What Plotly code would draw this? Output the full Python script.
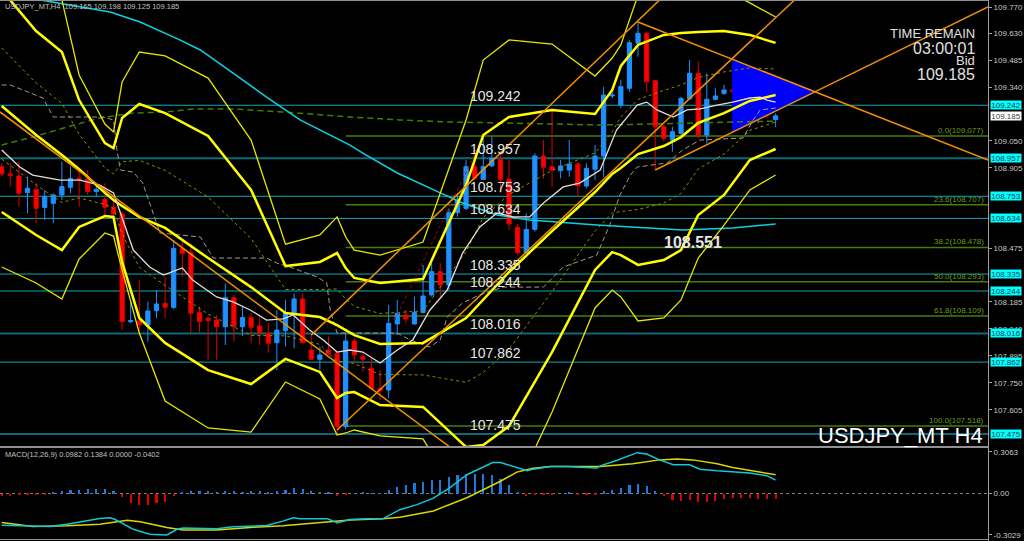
import plotly.graph_objects as go

# ---------------- candles (bar index 0..90) ----------------
opens = [108.912,108.873,108.862,108.772,108.790,108.693,108.715,108.760,108.801,108.850,
         108.844,108.778,108.737,108.694,108.658,108.079,108.083,108.061,108.138,108.178,
         108.156,108.473,108.450,108.129,108.097,108.088,108.052,108.208,108.052,108.101,
         108.056,108.017,107.966,108.031,108.120,108.201,107.927,107.877,107.927,107.909,
         107.515,107.975,107.891,107.829,107.721,107.712,108.067,108.115,108.067,108.128,
         108.223,108.348,108.276,108.665,108.688,108.912,108.844,108.916,108.952,108.844,
         108.586,108.450,108.575,108.969,108.912,108.891,108.894,108.926,108.808,108.898,
         108.969,109.292,109.243,109.333,109.575,109.629,109.374,109.127,109.055,109.091,
         109.277,109.414,109.082,109.274,109.306,109.324,109.324,109.356,109.315,109.292,
         109.165]
highs = [108.930,108.930,108.939,108.858,108.822,108.787,108.769,108.939,108.912,108.903,
         108.894,108.822,108.822,108.751,108.670,108.187,108.303,108.187,108.249,108.321,
         108.518,108.518,108.500,108.160,108.106,108.115,108.285,108.223,108.160,108.124,
         108.106,108.070,108.142,108.196,108.231,108.231,108.008,107.945,107.999,107.918,
         108.017,107.990,107.909,107.882,107.820,108.169,108.196,108.142,108.214,108.384,
         108.393,108.393,108.688,108.769,108.948,108.984,109.073,109.073,108.984,108.948,
         108.604,108.661,108.984,109.055,109.226,108.948,109.055,108.939,108.930,109.028,
         109.342,109.333,109.378,109.593,109.691,109.637,109.378,109.136,109.127,109.288,
         109.485,109.476,109.414,109.333,109.351,109.342,109.449,109.405,109.333,109.315,
         109.198]
lows = [108.858,108.805,108.697,108.661,108.608,108.626,108.608,108.733,108.769,108.697,
        108.760,108.751,108.626,108.643,108.034,108.070,108.008,107.972,108.097,108.097,
        108.146,108.321,108.020,108.020,107.873,107.873,107.954,107.972,108.003,107.963,
        107.954,107.913,107.820,107.945,107.936,107.963,107.873,107.820,107.900,107.475,
        107.500,107.864,107.811,107.712,107.658,107.667,108.008,108.070,108.061,108.124,
        108.214,108.205,108.250,108.643,108.679,108.840,108.840,108.912,108.769,108.572,
        108.437,108.446,108.563,108.849,108.805,108.849,108.858,108.751,108.796,108.840,
        108.858,109.279,109.226,109.315,109.503,109.315,108.894,109.046,108.993,109.064,
        109.270,109.064,109.037,109.270,109.297,109.297,109.288,109.234,109.145,109.172,
        109.125]
closes = [108.873,108.866,108.769,108.796,108.688,108.751,108.760,108.805,108.849,108.845,
          108.778,108.790,108.694,108.658,108.079,108.085,108.061,108.137,108.174,108.156,
          108.473,108.446,108.124,108.079,108.085,108.052,108.208,108.052,108.101,108.049,
          108.020,107.963,108.034,108.124,108.201,107.966,107.877,107.900,107.906,107.515,
          107.975,107.900,107.877,107.721,107.709,108.070,108.124,108.094,108.128,108.217,
          108.348,108.276,108.665,108.733,108.912,108.849,108.912,108.957,108.844,108.604,
          108.450,108.575,108.969,108.909,108.894,108.916,108.926,108.808,108.903,108.969,
          109.297,109.297,109.342,109.578,109.629,109.369,109.127,109.064,109.100,109.279,
          109.414,109.082,109.274,109.292,109.324,109.318,109.351,109.315,109.292,109.190,
          109.185]
bars = list(range(len(closes)))

# ---------------- Bollinger-type bands ----------------
bb_x = [0,4,7,9,12,13,14,16,19,24,29,33,37,39,40,41,44,49,54,56,59,64,69,71,72,74,77,79,81,84,87,90]
bb_mid = [109.238,109.082,108.975,108.899,108.771,108.733,108.701,108.642,108.583,108.421,108.265,108.126,
          108.104,108.061,108.034,108.007,107.959,107.965,108.099,108.196,108.346,108.566,108.776,108.873,
          108.905,108.980,109.023,109.071,109.147,109.200,109.265,109.297]
bb_up2 = [109.861,109.641,109.528,109.270,109.039,109.012,109.174,109.249,109.200,109.077,108.787,108.378,
          108.400,108.448,108.367,108.314,108.287,108.308,108.813,109.082,109.179,109.217,109.195,109.324,
          109.453,109.566,109.620,109.630,109.635,109.641,109.620,109.577]
bb_lo2 = [108.668,108.545,108.464,108.588,108.647,108.642,108.400,108.099,107.965,107.819,107.744,107.879,
          107.809,107.669,107.696,107.701,107.631,107.621,107.406,107.416,107.518,107.916,108.357,108.453,
          108.437,108.384,108.410,108.464,108.652,108.760,108.948,109.007]
bb_up3 = [110.130,109.996,109.808,109.405,109.141,109.098,109.367,109.528,109.507,109.388,109.055,108.496,
          108.545,108.642,108.534,108.464,108.437,108.507,109.163,109.485,109.593,109.571,109.399,109.496,
          109.566,109.834,109.969,109.996,109.969,109.861,109.792,109.716]
bb_lo3 = [108.373,108.287,108.201,108.416,108.556,108.539,108.357,108.018,107.653,107.508,107.486,107.755,
          107.664,107.470,107.481,107.497,107.465,107.449,107.062,107.013,107.099,107.594,108.153,108.249,
          108.212,108.083,108.099,108.196,108.421,108.598,108.787,108.867]
bb_up1 = [109.550,109.362,109.252,109.085,108.905,108.873,108.938,108.946,108.892,108.749,108.526,108.252,
          108.252,108.255,108.201,108.161,108.123,108.137,108.456,108.639,108.763,108.892,108.986,109.099,
          109.179,109.273,109.322,109.351,109.391,109.421,109.443,109.437]
bb_lo1 = [108.953,108.814,108.720,108.744,108.709,108.688,108.551,108.371,108.274,108.120,108.005,108.003,
          107.957,107.865,107.865,107.854,107.795,107.793,107.753,107.806,107.932,108.241,108.567,108.663,
          108.671,108.682,108.717,108.768,108.900,108.980,109.107,109.152]

# short MA (white)
ma_fast_x = [0,2.1,3.6,6.8,9.1,11.4,13.0,14.0,15.3,17.2,18.8,21.0,22.2,25.0,26.9,28.9,30.8,32.7,33.9,35.8,
             37.4,39.0,40.5,42.0,44.0,46.0,47.8,49.8,51.8,53.6,55.6,57.6,59.5,61.4,63.0,65.3,67.2,69.6,
             71.5,73.9,75.0,76.2,78.1,79.7,81.2,83.2,85.0,87.0,88.2,89.0,90.0]
ma_fast_y = [109.002,108.910,108.867,108.840,108.840,108.813,108.771,108.642,108.464,108.373,108.330,108.368,
             108.303,108.212,108.185,108.142,108.088,108.094,108.115,108.034,107.981,107.916,107.927,107.916,
             107.857,107.927,107.981,108.142,108.249,108.448,108.588,108.663,108.642,108.642,108.717,108.803,
             108.824,108.894,109.109,109.243,109.259,109.217,109.179,109.217,109.222,109.243,109.259,109.281,
             109.286,109.270,109.259]
# stepped dashed line (grey-brown)
kijun_x = [0,1.0,4.8,6.0,11.8,13.0,13.4,13.8,15.3,16.4,18.4,23.1,24.6,30.8,32.0,33.5,36.7,37.8,38.2,39.0,
           46.0,47.5,49.8,51.0,51.8,53.6,55.6,58.3,63.0,65.3,69.2,70.7,71.9,73.1,73.9,77.4,79.2,81.2,86.2,
           87.4,88.2,90.0]
kijun_y = [109.351,109.351,109.281,109.179,109.179,109.163,109.002,108.894,108.883,108.824,108.556,108.534,
           108.421,108.421,108.394,108.373,108.319,108.287,108.142,108.018,108.018,107.981,107.943,107.981,
           108.104,108.180,108.223,108.265,108.265,108.373,108.437,108.598,108.760,108.867,108.910,108.932,
           109.002,109.055,109.066,109.163,109.217,109.227]
# long MA (green dashed)
ma_long_x = [0,3.6,7.6,11.4,15.3,19.2,22.2,26.9,32.7,40.5,46.3,52.1,58.0,63.8,69.6,75.4,81.2,90.0]
ma_long_y = [109.028,109.071,109.125,109.174,109.200,109.206,109.222,109.222,109.206,109.179,109.163,
             109.152,109.147,109.141,109.136,109.141,109.147,109.157]
# cyan MA
ma_cyan_x = [0,4.5,12.6,16.1,20.7,23.1,26.9,30.8,34.7,40.5,42.0,46.0,51.0,53.6,57.6,61.4,69.2,73.1,79.2,85.0,90.0]
ma_cyan_y = [109.851,109.808,109.743,109.689,109.593,109.539,109.415,109.286,109.163,109.028,108.985,
             108.878,108.771,108.717,108.652,108.625,108.598,108.588,108.572,108.583,108.604]
# red dotted line along the rally
red_dot_x = [45.7, 56.2]
red_dot_y = [108.088, 109.093]

# ---------------- objects ----------------
hline_levels = [109.242, 108.957, 108.753, 108.634, 108.335, 108.244, 108.016, 107.862, 107.475]
hline_dark = [False, True, False, False, False, False, True, False, True]
fib_levels = [109.077, 108.707, 108.478, 108.293, 108.109, 107.518]
fib_labels = ["0.0(109.077)", "23.6(108.707)", "38.2(108.478)", "50.0(108.293)", "61.8(108.109)", "100.0(107.518)"]
fib_start = 40
trend_lines = [
    ([-0.2, 52.1], [109.206, 107.406]),
    ([36.0, 76.5], [108.007, 109.808]),
    ([39.0, 92.2], [107.497, 109.808]),
    ([74.0, 114.7], [109.689, 108.948]),
    ([76.0, 114.7], [108.894, 109.770]),
]
tri_x = [85.0, 85.0, 94.6, 85.0]
tri_y = [109.486, 109.098, 109.313, 109.486]
label_level = 108.502
label_text = "108.551"
bid = 109.185

# ---------------- MACD ----------------
macd_hist = [-0.019,-0.015,-0.010,-0.007,-0.012,-0.005,0.005,0.015,0.024,0.029,0.036,0.036,0.031,0.022,
             -0.029,-0.068,-0.085,-0.085,-0.073,-0.061,-0.019,0.012,0.017,0.015,0.015,0.010,0.017,0.015,
             0.012,0.015,0.015,0.012,0.019,0.029,0.041,0.036,0.022,0.012,0.010,-0.022,-0.007,0.000,0.007,
             0.002,0.001,0.029,0.048,0.065,0.075,0.082,0.097,0.097,0.121,0.133,0.140,0.145,0.140,0.133,
             0.109,0.065,0.012,-0.019,-0.007,-0.005,-0.005,0.000,0.005,-0.007,-0.007,-0.005,0.015,0.029,
             0.039,0.065,0.073,0.058,0.019,-0.019,-0.048,-0.053,-0.048,-0.065,-0.061,-0.056,-0.044,-0.034,
             -0.034,-0.031,-0.039,-0.041,-0.040]
macd_x = [0,5.6,7.6,9.5,11.4,12.6,13.2,15.3,17.2,19.2,20.4,21.1,23.1,25.0,26.9,28.9,30.8,32.7,33.9,34.7,
          36.7,37.9,39.0,40.5,42.5,44.3,46.3,48.3,50.2,52.1,54.1,57.1,58.0,59.5,61.1,61.8,63.8,65.7,69.2,
          69.6,71.5,73.9,75.0,76.5,78.1,80.0,81.2,83.2,85.0,87.0,89.0,90.0]
macd_line = [-0.233,-0.242,-0.226,-0.203,-0.184,-0.179,-0.191,-0.263,-0.299,-0.305,-0.263,-0.254,-0.259,
             -0.259,-0.245,-0.240,-0.235,-0.203,-0.179,-0.186,-0.186,-0.186,-0.215,-0.191,-0.186,-0.186,
             -0.119,-0.082,-0.034,0.041,0.138,0.228,0.228,0.199,0.167,0.179,0.199,0.199,0.187,0.203,0.242,
             0.300,0.290,0.247,0.211,0.211,0.179,0.167,0.157,0.150,0.131,0.098]
signal_x = [0,3.6,7.6,11.4,14.6,16.1,19.2,21.1,25.0,28.9,32.7,36.7,40.5,44.3,46.3,50.2,54.1,58.0,59.9,61.8,
            63.8,69.6,73.4,76.5,78.5,80.4,83.2,85.0,87.0,90.0]
signal_line = [-0.213,-0.242,-0.237,-0.226,-0.196,-0.208,-0.249,-0.269,-0.269,-0.249,-0.237,-0.213,-0.194,
               -0.186,-0.175,-0.128,-0.031,0.090,0.157,0.186,0.199,0.199,0.218,0.247,0.254,0.247,0.218,
               0.191,0.170,0.138]

price_ticks = [109.770,109.630,109.485,109.340,109.050,108.905,108.475,108.185,108.040,107.895,107.750,107.605]
macd_ticks = [0.3063, 0.0, -0.3029]
macd_ticktext = ["0.3063", "0.00", "-0.3029"]

FONT = "Liberation Sans, Arial, sans-serif"
W, H = 1024, 541
R = 36
PW = W - R

fig = go.Figure()

# triangle
fig.add_trace(go.Scatter(x=tri_x, y=tri_y, mode="lines", fill="toself", fillcolor="#0000ff",
                         line=dict(color="#0000ff", width=1), hoverinfo="skip"))

def line(x, y, color, width, dash="solid", ax=("x", "y")):
    fig.add_trace(go.Scatter(x=x, y=y, mode="lines", line=dict(color=color, width=width, dash=dash),
                             xaxis=ax[0], yaxis=ax[1], hoverinfo="skip"))

line(ma_long_x, ma_long_y, "#3f7f00", 1.5, "6px,4px")
line(kijun_x, kijun_y, "#a89888", 1, "5px,3px")
line(bb_x, bb_up1, "#8c8c00", 1, "dot")
line(bb_x, bb_lo1, "#8c8c00", 1, "dot")
line(red_dot_x, red_dot_y, "#b00000", 1, "dot")
line(ma_cyan_x, ma_cyan_y, "#10d0e0", 1.5)

fig.add_trace(go.Candlestick(x=bars, open=opens, high=highs, low=lows, close=closes,
                             increasing=dict(line=dict(color="#1e90ff", width=1), fillcolor="#1e90ff"),
                             decreasing=dict(line=dict(color="#e00000", width=1), fillcolor="#ff0000"),
                             whiskerwidth=0, hoverinfo="skip"))

line(bb_x, bb_up3, "#e6e600", 1.3)
line(bb_x, bb_lo3, "#e6e600", 1.3)
line(bb_x, bb_up2, "#ffff00", 2.5)
line(bb_x, bb_lo2, "#ffff00", 2.5)
line(bb_x, bb_mid, "#ffff00", 2.5)
line(ma_fast_x, ma_fast_y, "#e8dcd8", 1.3)

for tx, ty in trend_lines:
    line(tx, ty, "#f09000", 1.5)

# MACD
fig.add_trace(go.Bar(x=bars, y=macd_hist, width=0.25,
                     marker=dict(color=["#1e78e0" if v >= 0 else "#e00000" for v in macd_hist], line=dict(width=0)),
                     xaxis="x2", yaxis="y2", hoverinfo="skip"))
line(signal_x, signal_line, "#d8d800", 1.5, ax=("x2", "y2"))
line(macd_x, macd_line, "#10c8d8", 1.5, ax=("x2", "y2"))

shapes = []
for lv, dk in zip(hline_levels, hline_dark):
    shapes.append(dict(type="line", xref="x domain", yref="y", x0=0, x1=1, y0=lv, y1=lv, layer="below",
                       line=dict(color="#0e6878" if dk else "#12a8b4", width=2 if dk else 1)))
for lv in fib_levels:
    shapes.append(dict(type="line", xref="x", yref="y", x0=fib_start, x1=114.7, y0=lv, y1=lv, layer="below",
                       line=dict(color="#4a7a08", width=1.5)))
shapes.append(dict(type="line", xref="x2 domain", yref="y2", x0=0, x1=1, y0=0, y1=0, layer="below",
                   line=dict(color="#808080", width=1, dash="dot")))
# frame
shapes.append(dict(type="line", xref="paper", yref="paper", x0=1.0005, x1=1.0005, y0=0, y1=1,
                   line=dict(color="#a0a0a0", width=1)))
shapes.append(dict(type="line", xref="paper", yref="paper", x0=0, x1=1.0005, y0=1 - 447 / H, y1=1 - 447 / H,
                   line=dict(color="#909090", width=2)))
shapes.append(dict(type="line", xref="paper", yref="paper", x0=0, x1=1.0005, y0=1 - 0.5 / H, y1=1 - 0.5 / H,
                   line=dict(color="#909090", width=1)))
shapes.append(dict(type="line", xref="paper", yref="paper", x0=0, x1=1.0005, y0=1.5 / H, y1=1.5 / H,
                   line=dict(color="#909090", width=1)))

ann = []
for lv in hline_levels:
    ann.append(dict(xref="x", yref="y", x=54.2, y=lv, text=f"{lv:.3f}", showarrow=False, xanchor="left",
                    yanchor="bottom", yshift=-1, font=dict(family=FONT, size=14, color="#e6e6e6")))
    ann.append(dict(xref="paper", yref="y", x=990 / PW, y=lv, text=f"{lv:.3f}", showarrow=False,
                    xanchor="left", yanchor="middle", width=30, height=8, borderpad=0, bgcolor="#00ffff",
                    font=dict(family=FONT, size=8, color="#104050")))
ann.append(dict(xref="paper", yref="y", x=990 / PW, y=bid, text=f"{bid:.3f}", showarrow=False,
                xanchor="left", yanchor="middle", width=30, height=8, borderpad=0, bgcolor="#ffffff",
                font=dict(family=FONT, size=8, color="#404040")))
for lv, t in zip(fib_levels, fib_labels):
    ann.append(dict(xref="x domain", yref="y", x=0.998, y=lv, text=t, showarrow=False, xanchor="right",
                    yanchor="bottom", yshift=-1, font=dict(family=FONT, size=8, color="#6c9e10")))
ann.append(dict(xref="x", yref="y", x=76.8, y=label_level, text=f"<b>{label_text}</b>", showarrow=False,
                xanchor="left", yanchor="middle", font=dict(family=FONT, size=16, color="#e6e6e6")))
for txt, yy, sz in [("TIME REMAIN", 33, 13), ("03:00:01", 48, 16), ("Bid", 61, 13), (f"{bid:.3f}", 75, 16)]:
    ann.append(dict(xref="paper", yref="paper", x=977 / PW, y=1 - yy / H, text=txt, showarrow=False,
                    xanchor="right", yanchor="middle", font=dict(family=FONT, size=sz, color="#e0e0e0")))
ann.append(dict(xref="paper", yref="paper", x=985 / PW, y=1 - 435 / H, text="USDJPY_MT H4", showarrow=False,
                xanchor="right", yanchor="middle", font=dict(family=FONT, size=22, color="#ffffff")))
ann.append(dict(xref="paper", yref="paper", x=3 / PW, y=1 - 6 / H,
                text="USDJPY_MT,H4  109.165 109.198 109.125 109.185", showarrow=False,
                xanchor="left", yanchor="middle", font=dict(family=FONT, size=7.5, color="#c0c0c0")))
ann.append(dict(xref="paper", yref="paper", x=3 / PW, y=1 - 454 / H,
                text="MACD(12,26,9) 0.0982 0.1384 0.0000 -0.0402", showarrow=False,
                xanchor="left", yanchor="middle", font=dict(family=FONT, size=7.5, color="#c0c0c0")))

axis_common = dict(showgrid=False, zeroline=False, showline=False)
fig.update_layout(
    width=W, height=H, margin=dict(l=0, r=R, t=0, b=0, pad=0),
    paper_bgcolor="#000000", plot_bgcolor="#000000", showlegend=False,
    font=dict(family=FONT, color="#c8c8c8"),
    xaxis=dict(domain=[0, 1], range=[-0.2, 114.7], showticklabels=False, ticks="", anchor="y",
               rangeslider=dict(visible=False), **axis_common),
    yaxis=dict(domain=[1 - 446 / H, 1], range=[107.4111, 109.8076], side="right", anchor="x",
               tickvals=price_ticks, ticktext=[f"{v:.3f}" for v in price_ticks],
               ticks="outside", ticklen=3, tickcolor="#a0a0a0", tickfont=dict(family=FONT, size=8, color="#c8c8c8"),
               **axis_common),
    xaxis2=dict(domain=[0, 1], range=[-0.2, 114.7], matches="x", showticklabels=False, ticks="", anchor="y2",
                **axis_common),
    yaxis2=dict(domain=[2 / H, 1 - 448 / H], range=[-0.3343, 0.3343], side="right", anchor="x2",
                tickvals=macd_ticks, ticktext=macd_ticktext, ticks="outside", ticklen=3, tickcolor="#a0a0a0",
                tickfont=dict(family=FONT, size=8, color="#c8c8c8"), **axis_common),
    shapes=shapes, annotations=ann, bargap=0,
)

fig.write_html("out.html", config={"displayModeBar": False},
               post_script="document.body.style.margin='0px';document.body.style.background='#000';")
